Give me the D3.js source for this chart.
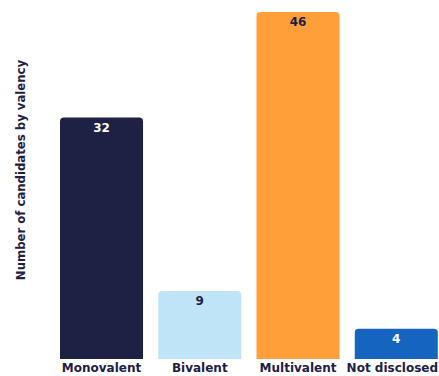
<!DOCTYPE html>
<html>
<head>
<meta charset="utf-8">
<script src="https://cdn.jsdelivr.net/npm/d3@7"></script>
<style>
  html, body { margin: 0; padding: 0; background: #fff; }
  svg { display: block; }
  text { font-family: "DejaVu Sans", "Noto Sans", sans-serif; font-weight: 700; }
</style>
</head>
<body>
<svg id="chart" width="439" height="376"></svg>
<script>
// Candidates grouped by valency
const categories = ["Monovalent", "Bivalent", "Multivalent", "Not disclosed"];
const values = [32, 9, 46, 4];
const barColors = ["#1e2044", "#bfe3f7", "#ff9f3a", "#1565c0"];
const labelColors = ["#ffffff", "#1e2044", "#1e2044", "#ffffff"];

const W = 439;
const svg = d3.select("#chart");
const baseline = 359;

const x = d3.scaleBand()
  .domain(categories)
  .range([52.4, 445.4])
  .paddingInner(0.155)
  .paddingOuter(0.0775);

const y = d3.scaleLinear()
  .domain([0, 46])
  .range([baseline, 12]);

// bar with rounded top corners
function barPath(x0, w, top, bottom, r) {
  r = Math.min(r, w / 2, bottom - top);
  return `M${x0},${bottom}V${top + r}Q${x0},${top} ${x0 + r},${top}` +
         `H${x0 + w - r}Q${x0 + w},${top} ${x0 + w},${top + r}V${bottom}Z`;
}

const data = categories.map((c, i) => ({ c, v: values[i], fill: barColors[i], lc: labelColors[i] }));

svg.selectAll("path.bar")
  .data(data)
  .join("path")
  .attr("class", "bar")
  .attr("d", d => barPath(x(d.c), x.bandwidth(), y(d.v), y(0), 4))
  .attr("fill", d => d.fill);

// value labels inside the top of each bar
svg.selectAll("text.val")
  .data(data)
  .join("text")
  .attr("class", "val")
  .attr("x", d => x(d.c) + x.bandwidth() / 2)
  .attr("y", d => y(d.v) + 14)
  .attr("text-anchor", "middle")
  .attr("font-size", 12)
  .attr("fill", d => d.lc)
  .text(d => d.v);

// category labels, nudged inward if they would run past the right edge
svg.selectAll("text.cat")
  .data(data)
  .join("text")
  .attr("class", "cat")
  .attr("x", d => x(d.c) + x.bandwidth() / 2)
  .attr("y", 372)
  .attr("text-anchor", "middle")
  .attr("font-size", 12)
  .attr("fill", "#1e2044")
  .text(d => d.c)
  .each(function () {
    const b = this.getBBox();
    const over = b.x + b.width - (W - 1);
    if (over > 0) d3.select(this).attr("x", +this.getAttribute("x") - over);
  });

// y-axis title
svg.append("text")
  .attr("transform", "translate(25,170) rotate(-90)")
  .attr("text-anchor", "middle")
  .attr("font-size", 11.7)
  .attr("fill", "#1e2044")
  .text("Number of candidates by valency");
</script>
</body>
</html>
